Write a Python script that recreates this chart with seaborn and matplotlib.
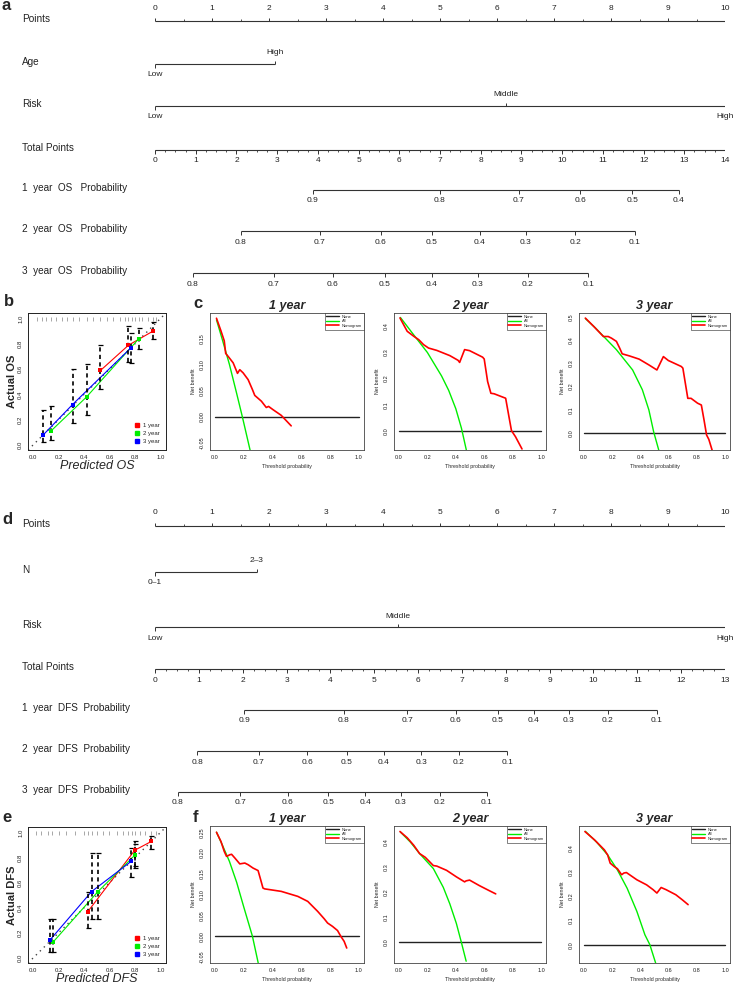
import numpy as np
import matplotlib
matplotlib.use("Agg")
import matplotlib.pyplot as plt
from matplotlib.transforms import blended_transform_factory
from matplotlib.lines import Line2D
import seaborn as sns

sns.set_theme(style="white")
plt.rcParams['font.family'] = ['Liberation Sans', 'DejaVu Sans']

W, H = 734, 992

# ---------------- nomogram OS (a) ----------------
os_age_pts = [0, 2.1]
os_age_lab = ["Low", "High"]
os_risk_pts = [0, 6.15, 10]
os_risk_lab = ["Low", "Middle", "High"]
os_total_max = 14
os_1y_lab = ["0.9", "0.8", "0.7", "0.6", "0.5", "0.4"]
os_1y_pos = [3.88, 7.00, 8.94, 10.44, 11.72, 12.87]
os_2y_lab = ["0.8", "0.7", "0.6", "0.5", "0.4", "0.3", "0.2", "0.1"]
os_2y_pos = [2.11, 4.05, 5.55, 6.80, 7.98, 9.11, 10.32, 11.79]
os_3y_lab = ["0.8", "0.7", "0.6", "0.5", "0.4", "0.3", "0.2", "0.1"]
os_3y_pos = [0.93, 2.92, 4.37, 5.65, 6.80, 7.93, 9.16, 10.64]

# ---------------- nomogram DFS (d) ----------------
dfs_n_pts = [0, 1.79]
dfs_n_lab = ["0\u20131", "2\u20133"]
dfs_risk_pts = [0, 4.26, 10]
dfs_risk_lab = ["Low", "Middle", "High"]
dfs_total_max = 13
dfs_1y_lab = ["0.9", "0.8", "0.7", "0.6", "0.5", "0.4", "0.3", "0.2", "0.1"]
dfs_1y_pos = [2.03, 4.31, 5.75, 6.86, 7.82, 8.64, 9.44, 10.33, 11.45]
dfs_2y_lab = ["0.8", "0.7", "0.6", "0.5", "0.4", "0.3", "0.2", "0.1"]
dfs_2y_pos = [0.96, 2.37, 3.47, 4.38, 5.22, 6.07, 6.93, 8.03]
dfs_3y_lab = ["0.8", "0.7", "0.6", "0.5", "0.4", "0.3", "0.2", "0.1"]
dfs_3y_pos = [0.52, 1.94, 3.03, 3.95, 4.79, 5.61, 6.50, 7.57]

# ---------------- calibration OS (b) ----------------
cal_os_x = {"1 year": [0.53, 0.75, 0.94], "2 year": [0.14, 0.42, 0.83], "3 year": [0.08, 0.31, 0.77]}
cal_os_y = {"1 year": [0.59, 0.79, 0.90], "2 year": [0.11, 0.38, 0.84], "3 year": [0.08, 0.32, 0.77]}
cal_os_lo = {"1 year": [0.44, 0.66, 0.84], "2 year": [0.04, 0.24, 0.76], "3 year": [0.02, 0.17, 0.65]}
cal_os_hi = {"1 year": [0.79, 0.94, 0.97], "2 year": [0.31, 0.64, 0.93], "3 year": [0.28, 0.60, 0.89]}
rug_os = [0.03, 0.07, 0.1, 0.14, 0.18, 0.23, 0.27, 0.31, 0.36, 0.42, 0.47, 0.53, 0.58,
          0.63, 0.68, 0.72, 0.75, 0.78, 0.8, 0.83, 0.86, 0.9, 0.94, 0.97]

# ---------------- calibration DFS (e) ----------------
cal_dfs_x = {"1 year": [0.43, 0.80, 0.93], "2 year": [0.16, 0.51, 0.80], "3 year": [0.13, 0.46, 0.77]}
cal_dfs_y = {"1 year": [0.37, 0.86, 0.93], "2 year": [0.13, 0.53, 0.82], "3 year": [0.14, 0.53, 0.77]}
cal_dfs_lo = {"1 year": [0.24, 0.73, 0.87], "2 year": [0.05, 0.31, 0.72], "3 year": [0.05, 0.31, 0.65]}
cal_dfs_hi = {"1 year": [0.53, 0.93, 0.97], "2 year": [0.31, 0.84, 0.91], "3 year": [0.31, 0.84, 0.88]}
rug_dfs = [0.02, 0.06, 0.12, 0.15, 0.2, 0.26, 0.33, 0.4, 0.43, 0.46, 0.5, 0.55, 0.6,
           0.66, 0.71, 0.75, 0.78, 0.8, 0.84, 0.88, 0.93, 0.97]

# ---------------- decision curves OS (c) ----------------
os1_thr = [0.01, 0.041, 0.064, 0.074, 0.092, 0.126, 0.156, 0.172, 0.195, 0.230, 0.260,
           0.276, 0.322, 0.356, 0.372, 0.402, 0.460, 0.529]
os1_nb = [0.188, 0.164, 0.145, 0.121, 0.115, 0.103, 0.083, 0.090, 0.084, 0.071, 0.052,
          0.041, 0.030, 0.018, 0.020, 0.014, 0.003, -0.017]
os1_all_thr = [0.01, 0.05, 0.10, 0.15, 0.19, 0.245]
os1_all_nb = [0.185, 0.148, 0.100, 0.045, 0.0, -0.065]

os2_thr = [0.007, 0.058, 0.104, 0.139, 0.173, 0.208, 0.266, 0.358, 0.416, 0.427, 0.462,
           0.497, 0.589, 0.600, 0.624, 0.647, 0.670, 0.751, 0.774, 0.792, 0.820, 0.866]
os2_nb = [0.432, 0.381, 0.362, 0.349, 0.330, 0.317, 0.308, 0.288, 0.270, 0.262, 0.311,
          0.307, 0.282, 0.275, 0.189, 0.144, 0.142, 0.125, 0.055, 0.001, -0.022, -0.069]
os2_all_thr = [0.01, 0.10, 0.20, 0.30, 0.35, 0.40, 0.44, 0.475]
os2_all_nb = [0.434, 0.37, 0.30, 0.21, 0.155, 0.085, 0.01, -0.075]

os3_thr = [0.01, 0.069, 0.138, 0.172, 0.195, 0.230, 0.253, 0.271, 0.322, 0.391, 0.460,
           0.517, 0.529, 0.563, 0.598, 0.690, 0.701, 0.736, 0.759, 0.805, 0.832, 0.851,
           0.869, 0.885, 0.908]
os3_nb = [0.497, 0.461, 0.417, 0.417, 0.410, 0.396, 0.367, 0.342, 0.333, 0.319, 0.294,
          0.272, 0.287, 0.330, 0.313, 0.287, 0.280, 0.149, 0.149, 0.128, 0.120, 0.055,
          -0.010, -0.029, -0.075]
os3_all_thr = [0.01, 0.08, 0.14, 0.23, 0.345, 0.414, 0.46, 0.494, 0.53]
os3_all_nb = [0.495, 0.455, 0.417, 0.36, 0.272, 0.186, 0.099, 0.004, -0.075]

# ---------------- decision curves DFS (f) ----------------
dfs1_thr = [0.01, 0.041, 0.064, 0.080, 0.103, 0.115, 0.138, 0.172, 0.207, 0.230, 0.264,
            0.299, 0.317, 0.333, 0.345, 0.460, 0.575, 0.644, 0.713, 0.759, 0.782, 0.816,
            0.851, 0.874, 0.897, 0.915]
dfs1_nb = [0.250, 0.228, 0.204, 0.192, 0.196, 0.197, 0.188, 0.174, 0.176, 0.172, 0.164,
           0.158, 0.136, 0.116, 0.114, 0.108, 0.096, 0.084, 0.060, 0.042, 0.032, 0.024,
           0.014, 0.000, -0.012, -0.028]
dfs1_all_thr = [0.01, 0.05, 0.10, 0.15, 0.20, 0.26, 0.30]
dfs1_all_nb = [0.25, 0.22, 0.18, 0.13, 0.07, 0.0, -0.064]

dfs2_thr = [0.007, 0.058, 0.104, 0.145, 0.185, 0.242, 0.266, 0.335, 0.404, 0.462, 0.473,
            0.497, 0.566, 0.635, 0.681]
dfs2_nb = [0.442, 0.417, 0.387, 0.354, 0.339, 0.306, 0.304, 0.287, 0.261, 0.241, 0.245,
           0.248, 0.226, 0.206, 0.193]
dfs2_all_thr = [0.01, 0.08, 0.145, 0.242, 0.312, 0.358, 0.404, 0.439, 0.473]
dfs2_all_nb = [0.44, 0.40, 0.354, 0.294, 0.219, 0.153, 0.075, 0.0, -0.076]

dfs3_thr = [0.007, 0.076, 0.145, 0.168, 0.186, 0.214, 0.237, 0.267, 0.283, 0.301, 0.375,
            0.444, 0.490, 0.517, 0.547, 0.582, 0.651, 0.697, 0.738]
dfs3_nb = [0.469, 0.434, 0.393, 0.372, 0.338, 0.324, 0.315, 0.290, 0.297, 0.299, 0.269,
           0.248, 0.228, 0.214, 0.237, 0.228, 0.207, 0.186, 0.166]
dfs3_all_thr = [0.01, 0.09, 0.168, 0.237, 0.306, 0.375, 0.432, 0.467, 0.508]
dfs3_all_nb = [0.47, 0.425, 0.372, 0.31, 0.234, 0.138, 0.041, 0.0, -0.076]

RED, GREEN, BLUE = "#FF0000", "#00EE00", "#0000FF"
LINE = "#333333"
TXT = "#222222"

fig = plt.figure(figsize=(W / 100, H / 100), dpi=100)


def rect(x0, y0, x1, y1):
    return [x0 / W, 1 - y1 / H, (x1 - x0) / W, (y1 - y0) / H]


def panel_letter(x, y, s):
    fig.text(x / W, 1 - y / H, s, fontsize=12, fontweight="bold", ha="left", va="center",
             family="Liberation Sans")


def nomogram(y_top, y_bot, rows, total_max):
    ax = fig.add_axes(rect(155, y_top, 725, y_bot))
    ax.set_xlim(0, 10)
    ax.set_ylim(y_bot, y_top)
    ax.axis("off")
    tr = blended_transform_factory(fig.transFigure, ax.transData)
    sc = 10 / total_max
    for kind, name, y, pos, labs in rows:
        ax.text(22 / W, y - 2, name, transform=tr, fontsize=7.2, color=TXT, va="center", ha="left")
        if kind == "points":
            ax.hlines(y, 0, 10, color=LINE, lw=0.8)
            ax.vlines(np.arange(0, 10.01, 1), y - 3.5, y, color=LINE, lw=0.7)
            ax.vlines(np.arange(0.5, 10, 1), y - 2, y, color=LINE, lw=0.6)
            for v in range(11):
                ax.text(v, y - 13, str(v), fontsize=6, color=TXT, ha="center", va="center")
        elif kind == "total":
            ax.hlines(y, 0, 10, color=LINE, lw=0.8)
            ax.vlines(np.arange(0, total_max + 0.01, 1) * sc, y, y + 3.5, color=LINE, lw=0.7)
            ax.vlines(np.arange(0, total_max + 0.01, 0.25) * sc, y, y + 2, color=LINE, lw=0.6)
            for v in range(total_max + 1):
                ax.text(v * sc, y + 11, str(v), fontsize=6, color=TXT, ha="center", va="center")
        elif kind == "prob":
            xs = np.array(pos) * sc
            ax.hlines(y, xs.min(), xs.max(), color=LINE, lw=0.8)
            ax.vlines(xs, y, y + 3.5, color=LINE, lw=0.7)
            for xv, lb in zip(xs, labs):
                ax.text(xv, y + 11, lb, fontsize=6, color=TXT, ha="center", va="center")
        elif kind == "cat":
            ax.hlines(y, min(pos), max(pos), color=LINE, lw=0.8)
            for i, (xv, lb) in enumerate(zip(pos, labs)):
                d = 1 if i % 2 == 0 else -1
                ax.vlines(xv, y, y + 3.5 * d, color=LINE, lw=0.7)
                ax.text(xv, y + 11 * d, lb, fontsize=6, color=TXT, ha="center", va="center")


def calibration(r, xs, ys, lo, hi, rug, xlabel, ylabel):
    ax = fig.add_axes(rect(*r))
    ax.axline((0, 0), (1, 1), ls=(0, (1, 3)), color="#444444", lw=1.0, zorder=1)
    ax.vlines(rug, 0.985, 1.015, color="#999999", lw=0.6)
    cols = {"1 year": RED, "2 year": GREEN, "3 year": BLUE}
    for k, c in cols.items():
        sns.lineplot(x=xs[k], y=ys[k], color=c, lw=0.8, ax=ax, sort=False, estimator=None)
    for k, c in cols.items():
        yv = np.array(ys[k])
        eb = ax.errorbar(xs[k], ys[k], yerr=[yv - np.array(lo[k]), np.array(hi[k]) - yv],
                         fmt="none", ecolor="black", elinewidth=1.2, capsize=1.8, capthick=0.9)
        eb[2][0].set_linestyle((0, (2.5, 2)))
    handles = []
    for k, c in cols.items():
        ax.scatter(xs[k], ys[k], marker="s", s=9, color=c, zorder=5, linewidths=0)
        handles.append(Line2D([], [], marker="s", ls="none", color=c, markersize=3))
    ax.legend(handles, list(cols), loc="lower right", frameon=False, fontsize=4.3,
              handletextpad=0.1, borderaxespad=0.6, labelspacing=0.5)
    ax.set_xlim(-0.04, 1.045)
    ax.set_ylim(-0.04, 1.045)
    ticks = [0, 0.2, 0.4, 0.6, 0.8, 1.0]
    ax.set_xticks(ticks)
    ax.set_yticks(ticks)
    ax.set_xticklabels([f"{t:.1f}" for t in ticks], fontsize=4.3)
    ax.set_yticklabels([f"{t:.1f}" for t in ticks], fontsize=4.3, rotation=90, va="center")
    ax.tick_params(length=2, width=0.5, pad=1.5, direction="out", colors=TXT)
    ax.set_xlabel(xlabel, fontsize=9, style="italic", labelpad=0)
    ax.set_ylabel(ylabel, fontsize=8, fontweight="bold", labelpad=1)
    for s in ax.spines.values():
        s.set_linewidth(0.7)
        s.set_color("#222222")


def dca(r, thr, nb, thr_all, nb_all, ylim, yticks, ylabs, title):
    ax = fig.add_axes(rect(*r))
    sns.lineplot(x=[0.0, 1.0], y=[0.0, 0.0], color="#222222", lw=1.0, ax=ax, label="None")
    sns.lineplot(x=thr_all, y=nb_all, color=GREEN, lw=1.0, ax=ax, sort=False, estimator=None, label="All")
    sns.lineplot(x=thr, y=nb, color=RED, lw=1.2, ax=ax, sort=False, estimator=None, label="Nomogram")
    ax.set_xlim(-0.035, 1.035)
    ax.set_ylim(*ylim)
    xt = [0, 0.2, 0.4, 0.6, 0.8, 1.0]
    ax.set_xticks(xt)
    ax.set_xticklabels([f"{t:.1f}" for t in xt], fontsize=4)
    ax.set_yticks(yticks)
    ax.set_yticklabels(ylabs, fontsize=4, rotation=90, va="center")
    ax.tick_params(length=2, width=0.5, pad=1.5, direction="out", colors=TXT)
    ax.set_xlabel("Threshold probability", fontsize=3.8, labelpad=3)
    ax.set_ylabel("Net benefit", fontsize=3.8, labelpad=3)
    ax.set_title(title, fontsize=9, fontweight="bold", style="italic", pad=3)
    leg = ax.legend(loc="upper right", fontsize=3, frameon=True, fancybox=False,
                    borderaxespad=0, handlelength=3, borderpad=0.4, labelspacing=0.15)
    leg.get_frame().set_edgecolor("#222222")
    leg.get_frame().set_linewidth(0.5)
    for s in ax.spines.values():
        s.set_linewidth(0.6)
        s.set_color("#444444")


# ---- a ----
panel_letter(2, 6, "a")
nomogram(0, 290, [
    ("points", "Points", 21, None, None),
    ("cat", "Age", 64, os_age_pts, os_age_lab),
    ("cat", "Risk", 106, os_risk_pts, os_risk_lab),
    ("total", "Total Points", 150, None, None),
    ("prob", "1  year  OS   Probability", 190, os_1y_pos, os_1y_lab),
    ("prob", "2  year  OS   Probability", 231, os_2y_pos, os_2y_lab),
    ("prob", "3  year  OS   Probability", 273, os_3y_pos, os_3y_lab),
], os_total_max)

# ---- b ----
panel_letter(4, 302, "b")
calibration((28, 313, 166, 450), cal_os_x, cal_os_y, cal_os_lo, cal_os_hi, rug_os,
            "Predicted OS", "Actual OS")

# ---- c ----
panel_letter(193, 303, "c")
dca((210, 313, 364, 450), os1_thr, os1_nb, os1_all_thr, os1_all_nb, (-0.063, 0.198),
    [-0.05, 0, 0.05, 0.10, 0.15], ["-0.05", "0.00", "0.05", "0.10", "0.15"], "1 year")
dca((394, 313, 546, 450), os2_thr, os2_nb, os2_all_thr, os2_all_nb, (-0.073, 0.451),
    [0, 0.1, 0.2, 0.3, 0.4], ["0.0", "0.1", "0.2", "0.3", "0.4"], "2 year")
dca((579, 313, 730, 450), os3_thr, os3_nb, os3_all_thr, os3_all_nb, (-0.075, 0.519),
    [0, 0.1, 0.2, 0.3, 0.4, 0.5], ["0.0", "0.1", "0.2", "0.3", "0.4", "0.5"], "3 year")

# ---- d ----
panel_letter(2, 520, "d")
nomogram(500, 810, [
    ("points", "Points", 526, None, None),
    ("cat", "N", 572, dfs_n_pts, dfs_n_lab),
    ("cat", "Risk", 627, dfs_risk_pts, dfs_risk_lab),
    ("total", "Total Points", 669, None, None),
    ("prob", "1  year  DFS  Probability", 710, dfs_1y_pos, dfs_1y_lab),
    ("prob", "2  year  DFS  Probability", 751, dfs_2y_pos, dfs_2y_lab),
    ("prob", "3  year  DFS  Probability", 792, dfs_3y_pos, dfs_3y_lab),
], dfs_total_max)

# ---- e ----
panel_letter(2, 818, "e")
calibration((28, 827, 166, 963), cal_dfs_x, cal_dfs_y, cal_dfs_lo, cal_dfs_hi, rug_dfs,
            "Predicted DFS", "Actual DFS")

# ---- f ----
panel_letter(193, 818, "f")
dca((210, 826, 364, 963), dfs1_thr, dfs1_nb, dfs1_all_thr, dfs1_all_nb, (-0.064, 0.265),
    [-0.05, 0, 0.05, 0.10, 0.15, 0.20, 0.25],
    ["-0.05", "0.00", "0.05", "0.10", "0.15", "0.20", "0.25"], "1 year")
dca((394, 826, 546, 963), dfs2_thr, dfs2_nb, dfs2_all_thr, dfs2_all_nb, (-0.083, 0.464),
    [0, 0.1, 0.2, 0.3, 0.4], ["0.0", "0.1", "0.2", "0.3", "0.4"], "2 year")
dca((579, 826, 730, 963), dfs3_thr, dfs3_nb, dfs3_all_thr, dfs3_all_nb, (-0.076, 0.492),
    [0, 0.1, 0.2, 0.3, 0.4], ["0.0", "0.1", "0.2", "0.3", "0.4"], "3 year")

fig.savefig("out.png", dpi=100, facecolor="white")
